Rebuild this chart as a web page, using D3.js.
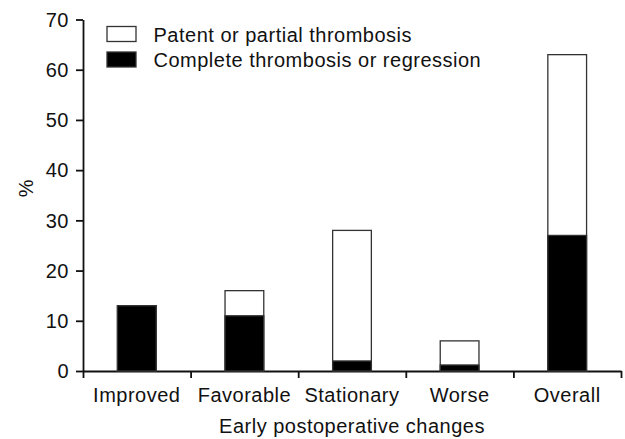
<!DOCTYPE html>
<html>
<head>
<meta charset="utf-8">
<script src="https://cdn.jsdelivr.net/npm/d3@7"></script>
<style>
  body { margin: 0; background: #fff; }
  text { font-family: "Liberation Sans", Arial, sans-serif; fill: #111; letter-spacing: 0.5px; }
</style>
</head>
<body>
<svg id="chart" width="625" height="439"></svg>
<script>
// catégories et valeurs (%)
var categories = ["Improved", "Favorable", "Stationary", "Worse", "Overall"];
var completeValues = [13, 11, 2, 1.2, 27];   // complete thrombosis or regression
var totalValues = [13, 16, 28, 6, 63];       // hauteur totale de la barre
var yTicks = [0, 10, 20, 30, 40, 50, 60, 70];
var legendLabels = ["Patent or partial thrombosis", "Complete thrombosis or regression"];

var svg = d3.select("#chart");
var margin = {top: 19.5, right: 4, bottom: 68, left: 83};
var width = 625 - margin.right;
var height = 439 - margin.bottom;

var xScale = d3.scaleBand().domain(categories).range([margin.left, width]).paddingInner(0.64).paddingOuter(0.32);
var xEdges = d3.scaleLinear().domain([0, categories.length]).range([margin.left, width]);
var yScale = d3.scaleLinear().domain([0, 70]).range([height, margin.top]);

// axe ordonnée
var yAxis = svg.append("g")
  .attr("transform", `translate(${margin.left}, 0)`)
  .call(d3.axisLeft(yScale).tickValues(yTicks).tickSize(7).tickPadding(7).tickSizeOuter(0));
yAxis.selectAll("text").style("font-size", "20px").attr("fill", "#111").attr("dy", "0.34em");

// axe abscisse : ticks entre les catégories
var xAxis = svg.append("g")
  .attr("transform", `translate(0, ${height})`)
  .call(d3.axisBottom(xEdges).tickValues(d3.range(categories.length + 1)).tickSize(7).tickFormat("").tickSizeOuter(0));

svg.selectAll(".domain, .tick line").attr("stroke", "#111").attr("stroke-width", 1.8);

// barres : partie blanche (total) puis partie noire
svg.selectAll("rect.total")
  .data(categories)
  .enter().append("rect")
  .attr("class", "total")
  .attr("x", d => xScale(d))
  .attr("width", xScale.bandwidth())
  .attr("y", (d, i) => yScale(totalValues[i]))
  .attr("height", (d, i) => yScale(0) - yScale(totalValues[i]))
  .attr("fill", "#fff").attr("stroke", "#333").attr("stroke-width", 1.3);

svg.selectAll("rect.complete")
  .data(categories)
  .enter().append("rect")
  .attr("class", "complete")
  .attr("x", d => xScale(d))
  .attr("width", xScale.bandwidth())
  .attr("y", (d, i) => yScale(completeValues[i]))
  .attr("height", (d, i) => yScale(0) - yScale(completeValues[i]))
  .attr("fill", "#000").attr("stroke", "#333").attr("stroke-width", 1.3);

// labels des catégories
svg.selectAll("text.cat")
  .data(categories)
  .enter().append("text")
  .attr("class", "cat")
  .attr("x", d => xScale(d) + xScale.bandwidth() / 2)
  .attr("y", 402)
  .attr("text-anchor", "middle")
  .style("font-size", "20px")
  .text(d => d);

// titre axe abscisse
svg.append("text")
  .attr("x", (margin.left + width) / 2)
  .attr("y", 433)
  .attr("text-anchor", "middle")
  .style("font-size", "20px")
  .text("Early postoperative changes");

// titre axe ordonnée
svg.append("text")
  .attr("transform", "translate(33, 188) rotate(-90)")
  .attr("text-anchor", "middle")
  .style("font-size", "20px")
  .text("%");

// légende
var legend = svg.selectAll("g.legend")
  .data(legendLabels)
  .enter().append("g")
  .attr("class", "legend")
  .attr("transform", (d, i) => `translate(107, ${26.5 + i * 25.5})`);
legend.append("rect")
  .attr("width", 29).attr("height", 15)
  .attr("fill", (d, i) => i == 0 ? "#fff" : "#000")
  .attr("stroke", "#333").attr("stroke-width", 1.3);
legend.append("text")
  .attr("x", 46.5).attr("y", 15)
  .style("font-size", "20px")
  .text(d => d);
</script>
</body>
</html>
